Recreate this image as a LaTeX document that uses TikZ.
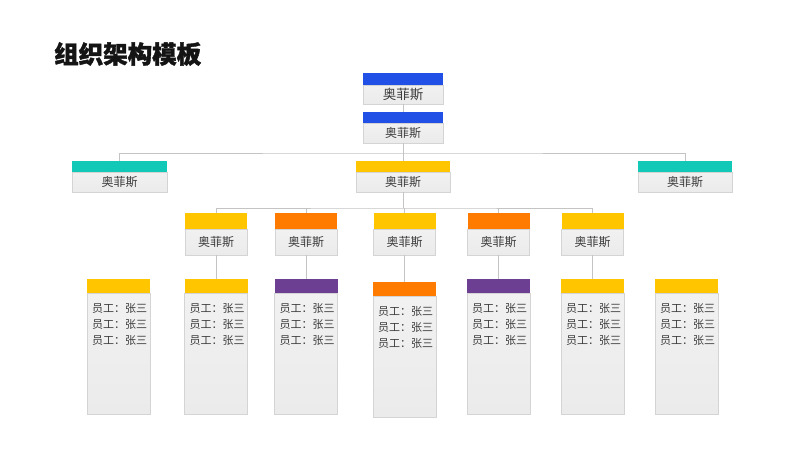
\documentclass[tikz,border=0pt]{standalone}
\usepackage{fontspec}
\setmainfont{Noto Sans CJK SC}
\newfontfamily\titlefont{Noto Sans CJK SC}[BoldFeatures={FakeBold=1.6}]
\usetikzlibrary{calc}
\definecolor{cblue}{HTML}{2150E6}
\definecolor{cteal}{HTML}{12C9B8}
\definecolor{cyel}{HTML}{FFC600}
\definecolor{corg}{HTML}{FF7B00}
\definecolor{cpur}{HTML}{6C3F93}
\definecolor{cbody}{HTML}{EBEBEB}
\definecolor{cbord}{HTML}{D4D4D4}
\definecolor{cline}{HTML}{C4C4C4}
\definecolor{ctext}{HTML}{3C3C3C}
\tikzset{
  body/.style={draw=cbord, line width=0.8pt, top color=cbody!70!white, bottom color=cbody, inner sep=0pt, outer sep=0pt, font=\fontsize{12}{14}\selectfont, text=ctext},
  bar/.style={fill=#1, draw=none, inner sep=0pt, outer sep=0pt},
  conn/.style={draw=cline, line width=0.9pt},
  staff/.style={anchor=west, inner sep=0pt, font=\fontsize{11}{13}\selectfont, text=ctext},
}
\begin{document}
\begin{tikzpicture}[x=1pt,y=-1pt]
\useasboundingbox (0,0) rectangle (800,450);
\fill[white] (0,0) rectangle (800,450);
% title
\node[anchor=west, inner sep=0pt, font=\titlefont\fontsize{24.5}{28}\selectfont\bfseries, text=black!92] (title) at (54,54) {组织架构模板};
% level 0
\node[body, minimum width=80pt, minimum height=19pt, font=\fontsize{13.5}{15}\selectfont] (t1) at (403,94.5) {奥菲斯};
\node[bar=cblue, minimum width=80pt, minimum height=12pt, anchor=south] (t1b) at (t1.north) {};
\node[body, minimum width=80pt, minimum height=20pt] (t2) at (403,133) {奥菲斯};
\node[bar=cblue, minimum width=80pt, minimum height=11pt, anchor=south] (t2b) at (t2.north) {};
% level 1
\node[body, minimum width=95pt, minimum height=20pt] (l) at (119.5,182) {奥菲斯};
\node[bar=cteal, minimum width=95pt, minimum height=11pt, anchor=south] (lb) at (l.north) {};
\node[body, minimum width=94pt, minimum height=20pt] (c) at (403,182) {奥菲斯};
\node[bar=cyel, minimum width=94pt, minimum height=11pt, anchor=south] (cb) at (c.north) {};
\node[body, minimum width=94pt, minimum height=20pt] (r) at (685,182) {奥菲斯};
\node[bar=cteal, minimum width=94pt, minimum height=11pt, anchor=south] (rb) at (r.north) {};
% level 2
\foreach \n/\x/\col in {1/216/cyel,2/306/corg,3/404.5/cyel,4/498.5/corg,5/592.5/cyel}{
  \node[body, minimum width=62pt, minimum height=26pt] (m\n) at (\x,242) {奥菲斯};
  \node[bar=\col, minimum width=62pt, minimum height=16pt, anchor=south] (m\n b) at (m\n.north) {};
}
% level 3
\foreach \n/\x/\y/\col in {1/118.5/353.5/cyel,2/216/353.5/cyel,3/306/353.5/cpur,4/404.5/356.5/corg,5/498.5/353.5/cpur,6/592.5/353.5/cyel,7/686.5/353.5/cyel}{
  \node[body, minimum width=63pt, minimum height=121pt] (s\n) at (\x,\y) {};
  \node[bar=\col, minimum width=63pt, minimum height=14pt, anchor=south] (s\n b) at (s\n.north) {};
  \node[staff] (s\n t1) at ($(s\n.north west)+(5,15)$) {员工：张三};
  \node[staff] (s\n t2) at ($(s\n.north west)+(5,31)$) {员工：张三};
  \node[staff] (s\n t3) at ($(s\n.north west)+(5,47)$) {员工：张三};
}
% connectors
\coordinate (h1) at (403,153);
\coordinate (h2) at (403,208);
\draw[conn] (t1.south) -- (t2b.north);
\draw[conn] (t2.south) -- (cb.north);
\draw[conn] (lb.north) |- (h1) -| (rb.north);
\draw[conn] (c.south) -- (h2);
\draw[conn] (m1b.north) |- (h2) -| (m5b.north);
\draw[conn] (m2b.north) -- (m2b.north |- h2);
\draw[conn] (m3b.north) -- (m3b.north |- h2);
\draw[conn] (m4b.north) -- (m4b.north |- h2);
\foreach \a/\b in {1/2,2/3,3/4,4/5,5/6}{
  \draw[conn] (m\a.south) -- (s\b b.north);
}
\end{tikzpicture}
\end{document}
